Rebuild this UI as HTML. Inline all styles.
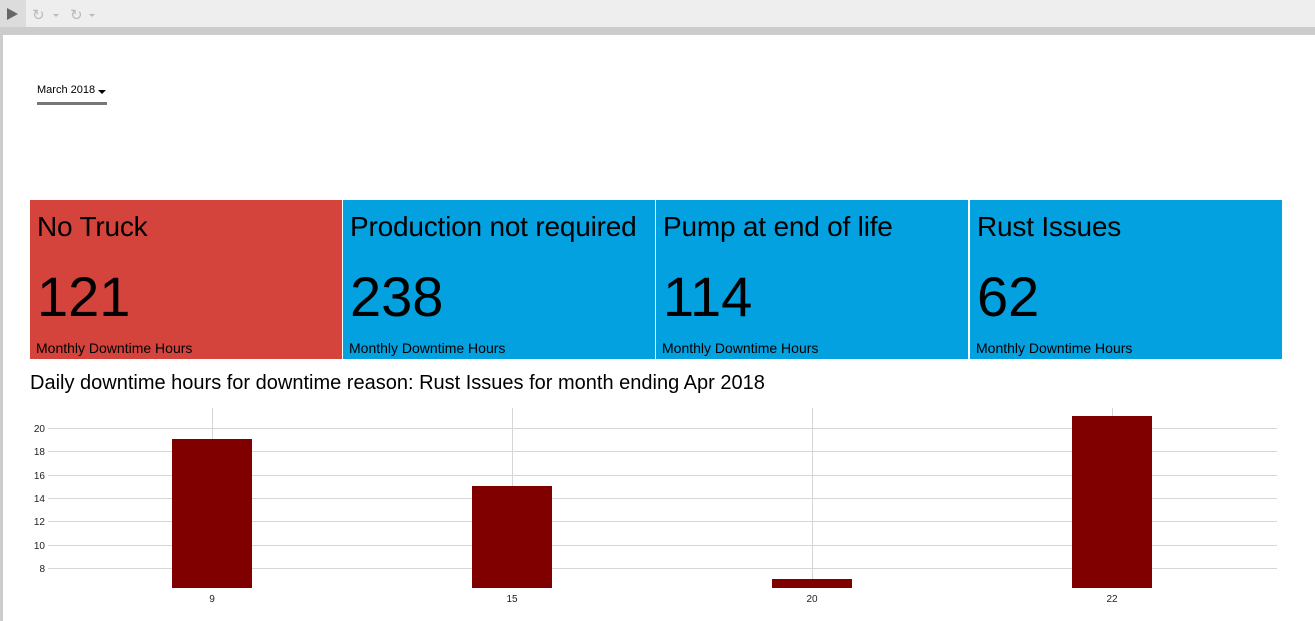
<!DOCTYPE html>
<html><head><meta charset="utf-8"><style>
body{margin:0;width:1315px;height:621px;overflow:hidden;background:#fff;font-family:"Liberation Sans",sans-serif;position:relative}
.a{position:absolute}
.tile{position:absolute;top:200px;height:159px;color:#000}
.tile .t{position:absolute;left:7px;top:11px;font-size:28px;white-space:nowrap;letter-spacing:-0.2px}
.tile .n{position:absolute;left:7px;top:64px;font-size:56px}
.tile .s{position:absolute;left:6px;top:140px;font-size:14px;white-space:nowrap}
</style></head><body>
<div class="a" style="left:0;top:0;width:1315px;height:27px;background:#eeeeee"></div>
<div class="a" style="left:0;top:0;width:26px;height:27px;background:#dcdcdc"></div>
<svg class="a" style="left:0;top:0" width="110" height="27">
<polygon points="7,8 7,20 18,14" fill="#666"/>
<text x="32" y="20" font-size="15" fill="#bbb" font-family="DejaVu Sans">↻</text>
<polygon points="53,14 59,14 56,17" fill="#bbb"/>
<text x="70" y="20" font-size="15" fill="#bbb" font-family="DejaVu Sans">↻</text>
<polygon points="89,14 95,14 92,17" fill="#bbb"/>
</svg>
<div class="a" style="left:0;top:27px;width:1315px;height:8px;background:#cccccc"></div>
<div class="a" style="left:0;top:27px;width:3px;height:594px;background:#cccccc"></div>
<div class="a" style="left:37px;top:84px;font-size:11px">March 2018</div>
<svg class="a" style="left:98px;top:90px" width="10" height="6"><polygon points="0,0 8,0 4,4" fill="#000"/></svg>
<div class="a" style="left:37px;top:102px;width:70px;height:3px;background:#777"></div>

<div class="tile" style="left:30px;width:312px;background:#d5433d"><div class="t">No Truck</div><div class="n">121</div><div class="s">Monthly Downtime Hours</div></div>
<div class="tile" style="left:343px;width:312px;background:#03a1e0"><div class="t">Production not required</div><div class="n">238</div><div class="s">Monthly Downtime Hours</div></div>
<div class="tile" style="left:656px;width:312px;background:#03a1e0"><div class="t">Pump at end of life</div><div class="n">114</div><div class="s">Monthly Downtime Hours</div></div>
<div class="tile" style="left:970px;width:312px;background:#03a1e0"><div class="t">Rust Issues</div><div class="n">62</div><div class="s">Monthly Downtime Hours</div></div>

<div class="a" style="left:30px;top:372px;font-size:20px">Daily downtime hours for downtime reason: Rust Issues for month ending Apr 2018</div>

<svg class="a" style="left:0;top:400px" width="1315" height="221" font-family="Liberation Sans" font-size="10">
<g stroke="#d6d6d6" stroke-width="1">
<line x1="48" x2="1277" y1="28.5" y2="28.5"/><line x1="48" x2="1277" y1="51.5" y2="51.5"/>
<line x1="48" x2="1277" y1="75.5" y2="75.5"/><line x1="48" x2="1277" y1="98.5" y2="98.5"/>
<line x1="48" x2="1277" y1="121.5" y2="121.5"/><line x1="48" x2="1277" y1="145.5" y2="145.5"/>
<line x1="48" x2="1277" y1="168.5" y2="168.5"/>
<line x1="212.5" x2="212.5" y1="8" y2="188"/><line x1="512.5" x2="512.5" y1="8" y2="188"/>
<line x1="812.5" x2="812.5" y1="8" y2="188"/><line x1="1112.5" x2="1112.5" y1="8" y2="188"/>
</g>
<g text-anchor="end" fill="#222">
<text x="45" y="32">20</text><text x="45" y="55">18</text><text x="45" y="79">16</text>
<text x="45" y="102">14</text><text x="45" y="125">12</text><text x="45" y="149">10</text><text x="45" y="172">8</text>
</g>
<g fill="#800000">
<rect x="172" y="39" width="80" height="149"/><rect x="472" y="86" width="80" height="102"/>
<rect x="772" y="179" width="80" height="9"/><rect x="1072" y="16" width="80" height="172"/>
</g>
<g text-anchor="middle" fill="#222">
<text x="212" y="202">9</text><text x="512" y="202">15</text><text x="812" y="202">20</text><text x="1112" y="202">22</text>
</g>
</svg>
</body></html>
